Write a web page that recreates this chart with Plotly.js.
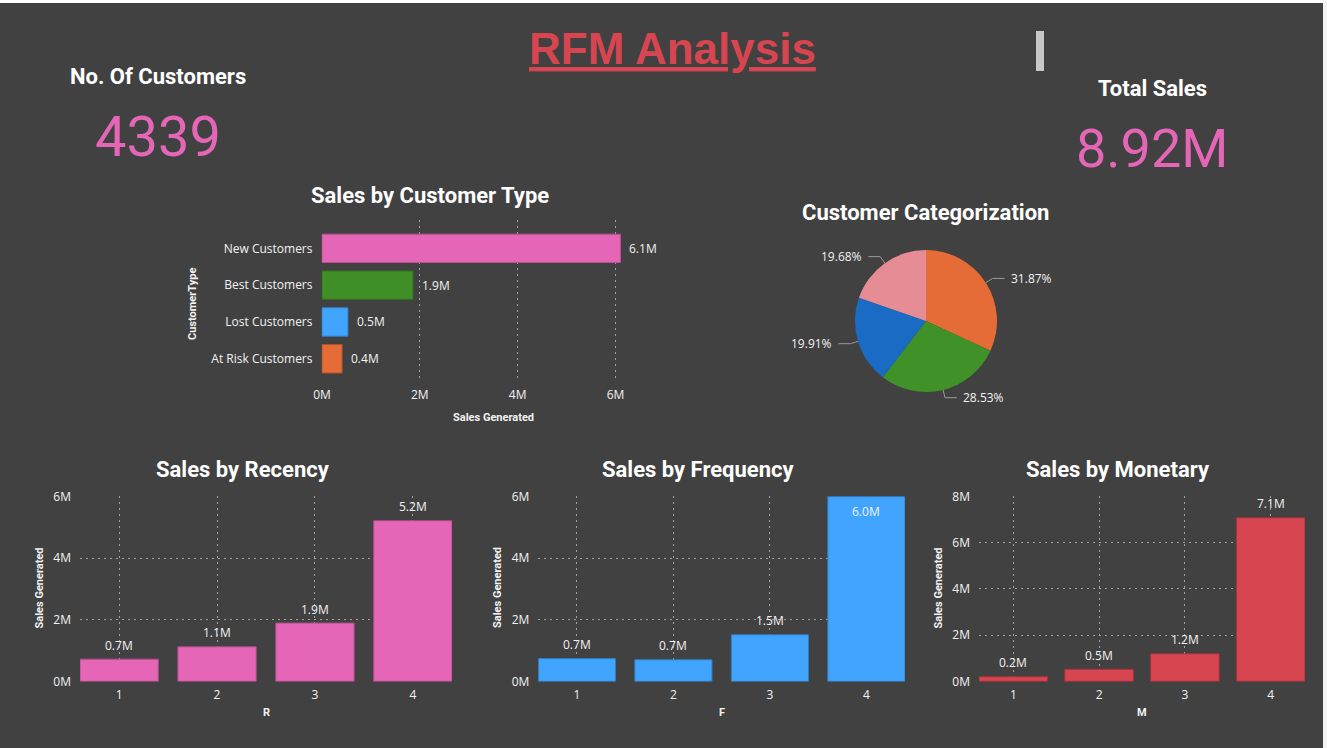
<!DOCTYPE html>
<html>
<head>
<meta charset="utf-8">
<script src="https://cdn.plot.ly/plotly-3.0.1.min.js"></script>
<style>html,body{margin:0;padding:0;background:#414141;overflow:hidden}#chart{width:1327px;height:748px}</style>
</head>
<body>
<div id="chart"></div>
<script>
// ---- data ----
const customerTypes = ['New Customers', 'Best Customers', 'Lost Customers', 'At Risk Customers'];
const typeSales = [6.10, 1.86, 0.53, 0.41];           // millions
const typeColors = ['#e566b7', '#408f27', '#41a4ff', '#e66c37'];

const categoryLabels = ['Category 1', 'Category 2', 'Category 3', 'Category 4'];
const categoryShares = [31.87, 28.53, 19.91, 19.68];   // percent
const categoryColors = ['#e66c37', '#3f9128', '#1a6bc4', '#e68c95'];

const scores = ['1', '2', '3', '4'];
const recencySales = [0.72, 1.12, 1.89, 5.21];
const frequencySales = [0.74, 0.70, 1.51, 5.99];
const monetarySales = [0.20, 0.52, 1.19, 7.07];

const customerCount = '4339';
const totalSales = '8.92M';

// ---- layout helpers ----
const W = 1327, H = 748;
const X = p => p / W;
const Y = p => 1 - p / H;

const BG = '#414141';
const GRID = '#a0a0a0';
const GRIDDASH = '2px,4px';
const TXT = '#f2f2f2';
const TICKFONT = {family: 'Open Sans, Noto Sans, sans-serif', size: 12, color: TXT};
const LABELFONT = {family: 'Open Sans, Noto Sans, sans-serif', size: 12, color: TXT};
const TITLEFONT = {family: 'Roboto, sans-serif', size: 22, color: '#ffffff', weight: 700};
const AXTFONT = {family: 'Roboto, sans-serif', size: 11, color: TXT, weight: 700};

function darker(hex, f) {
  const n = parseInt(hex.slice(1), 16);
  const r = Math.round(((n >> 16) & 255) * f), g = Math.round(((n >> 8) & 255) * f), b = Math.round((n & 255) * f);
  return `rgb(${r},${g},${b})`;
}

// pie geometry (pixels)
const PIE_CX = 926, PIE_CY = 321, PIE_R = 71;

const traces = [
  {
    type: 'bar', orientation: 'h', x: typeSales, y: customerTypes,
    xaxis: 'x', yaxis: 'y',
    marker: {color: typeColors, line: {color: typeColors.map(c => darker(c, 0.8)), width: 1}},
    hoverinfo: 'x+y', width: 0.77
  },
  {
    type: 'pie', values: categoryShares, labels: categoryLabels, sort: false,
    direction: 'clockwise', rotation: 0,
    marker: {colors: categoryColors, line: {width: 0}},
    textinfo: 'none',
    domain: {x: [X(PIE_CX - PIE_R), X(PIE_CX + PIE_R)], y: [Y(PIE_CY + PIE_R), Y(PIE_CY - PIE_R)]},
    showlegend: false
  },
  {
    type: 'bar', x: scores, y: recencySales, xaxis: 'x2', yaxis: 'y2',
    marker: {color: '#e566b7', line: {color: darker('#e566b7', 0.75), width: 1}}
  },
  {
    type: 'bar', x: scores, y: frequencySales, xaxis: 'x3', yaxis: 'y3',
    marker: {color: '#41a4ff', line: {color: darker('#41a4ff', 0.75), width: 1}}
  },
  {
    type: 'bar', x: scores, y: monetarySales, xaxis: 'x4', yaxis: 'y4',
    marker: {color: '#d64550', line: {color: darker('#d64550', 0.75), width: 1}}
  }
];

function valAxis(domain, max, extra) {
  return Object.assign({
    domain: domain, range: [-0.012 * max / 6, max * 1.002], dtick: 2, tick0: 0, ticksuffix: 'M',
    showgrid: true, gridcolor: GRID, griddash: GRIDDASH, gridwidth: 1,
    zeroline: false, showline: false, ticks: '', tickfont: TICKFONT,
    ticklabelstandoff: 8, fixedrange: true
  }, extra || {});
}
function catAxis(domain) {
  return {
    domain: domain, type: 'category', range: [-0.4, 3.4],
    showgrid: true, gridcolor: GRID, griddash: GRIDDASH, gridwidth: 1,
    zeroline: false, showline: false, ticks: '', tickfont: TICKFONT,
    ticklabelstandoff: 4, fixedrange: true
  };
}

const bottomY = [Y(681.7), Y(496)];

const layout = {
  width: W, height: H,
  margin: {l: 0, r: 0, t: 0, b: 0},
  paper_bgcolor: BG, plot_bgcolor: 'rgba(0,0,0,0)',
  showlegend: false, bargap: 0.2,
  font: {family: 'Open Sans, sans-serif', color: TXT},
  xaxis: Object.assign(valAxis([X(321.5), X(650)], 6), {anchor: 'y', range: [-0.01, 328.5 / 49], ticklabelstandoff: 4}),
  yaxis: {
    domain: [Y(382), Y(220)], anchor: 'x', type: 'category',
    categoryorder: 'array', categoryarray: customerTypes, range: [3.63, -0.77],
    showgrid: false, zeroline: false, showline: false, ticks: '',
    tickfont: TICKFONT, ticklabelstandoff: 8, fixedrange: true
  },
  xaxis2: Object.assign(catAxis([X(80), X(452)]), {anchor: 'y2'}),
  yaxis2: valAxis(bottomY, 6, {anchor: 'x2'}),
  xaxis3: Object.assign(catAxis([X(538.3), X(905)]), {anchor: 'y3'}),
  yaxis3: valAxis(bottomY, 6, {anchor: 'x3'}),
  xaxis4: Object.assign(catAxis([X(979), X(1305)]), {anchor: 'y4'}),
  yaxis4: valAxis(bottomY, 8, {anchor: 'x4'}),
  shapes: [
    {type: 'rect', xref: 'paper', yref: 'paper', x0: 0, x1: 1, y0: Y(3), y1: 1, fillcolor: '#ffffff', line: {width: 0}, layer: 'below'},
    {type: 'rect', xref: 'paper', yref: 'paper', x0: X(1323), x1: 1, y0: 0, y1: 1, fillcolor: '#f4f4f4', line: {width: 0}, layer: 'below'},
    {type: 'rect', xref: 'paper', yref: 'paper', x0: X(1036), x1: X(1044), y0: Y(71), y1: Y(31), fillcolor: '#c8c8c8', line: {width: 0}}
  ],
  annotations: []
};

function ann(text, px, py, font, extra) {
  layout.annotations.push(Object.assign({
    text: text, xref: 'paper', yref: 'paper', x: X(px), y: Y(py),
    xanchor: 'center', yanchor: 'middle', showarrow: false, font: font
  }, extra || {}));
}

// data labels for the horizontal bar chart (category index on the y axis)
customerTypes.forEach((c, i) => {
  layout.annotations.push({
    text: typeSales[i].toFixed(1) + 'M', xref: 'x', yref: 'y', x: typeSales[i], y: i,
    xanchor: 'left', yanchor: 'middle', xshift: 7, showarrow: false, font: LABELFONT
  });
});

// data labels for the column charts (category index on the x axis)
function colLabels(values, xa, ya, max) {
  values.forEach((v, i) => {
    const inside = v > max * 0.92;
    layout.annotations.push({
      text: v.toFixed(1) + 'M', xref: xa, yref: ya, x: i, y: v,
      xanchor: 'center', yanchor: 'middle', yshift: inside ? -15 : 14,
      showarrow: false, font: LABELFONT
    });
  });
}
colLabels(recencySales, 'x2', 'y2', 6);
colLabels(frequencySales, 'x3', 'y3', 6);
colLabels(monetarySales, 'x4', 'y4', 8);

// pie labels with leader lines, computed from slice shares
(function () {
  const total = categoryShares.reduce((a, b) => a + b, 0);
  let cum = 0;
  categoryShares.forEach(v => {
    const mid = (cum + v / 2) / total * 2 * Math.PI;
    cum += v;
    const dx = Math.sin(mid), dy = -Math.cos(mid);
    const px = PIE_CX + PIE_R * dx, py = PIE_CY + PIE_R * dy;
    const ex = PIE_CX + (PIE_R + 8) * dx, ey = PIE_CY + (PIE_R + 8) * dy;
    const side = dx >= 0 ? 1 : -1;
    const hx = ex + side * 12;
    layout.shapes.push({
      type: 'path', xref: 'paper', yref: 'paper',
      path: `M ${X(px)} ${Y(py)} L ${X(ex)} ${Y(ey)} L ${X(hx)} ${Y(ey)}`,
      line: {color: '#9a9a9a', width: 1}
    });
    ann(v.toFixed(2) + '%', hx + side * 4, ey, LABELFONT, {xanchor: side > 0 ? 'left' : 'right'});
  });
})();

ann('<span style="text-decoration:underline">RFM Analysis</span>', 672, 48,
    {family: 'Liberation Sans, Arial, sans-serif', size: 44, color: '#d64550', weight: 700});
ann('No. Of Customers', 158, 77, TITLEFONT);
ann(customerCount, 158, 137, {family: 'Roboto, sans-serif', size: 56, color: '#e566b7'});
ann('Total Sales', 1152, 88, TITLEFONT);
ann(totalSales, 1152, 148, {family: 'Roboto, sans-serif', size: 54, color: '#e566b7'});
ann('Sales by Customer Type', 430, 195, TITLEFONT);
ann('Customer Categorization', 926, 212, TITLEFONT);
ann('Sales by Recency', 243, 470, TITLEFONT);
ann('Sales by Frequency', 698, 470, TITLEFONT);
ann('Sales by Monetary', 1118, 470, TITLEFONT);
ann('Sales Generated', 493, 417, AXTFONT);
ann('CustomerType', 192, 304, AXTFONT, {textangle: -90});
ann('Sales Generated', 38.5, 588, AXTFONT, {textangle: -90});
ann('Sales Generated', 497, 588, AXTFONT, {textangle: -90});
ann('Sales Generated', 937.5, 588, AXTFONT, {textangle: -90});
ann('R', 266, 712, AXTFONT);
ann('F', 721.5, 712, AXTFONT);
ann('M', 1141.5, 712, AXTFONT);

Plotly.newPlot('chart', traces, layout, {displayModeBar: false, responsive: false});
</script>
</body>
</html>
